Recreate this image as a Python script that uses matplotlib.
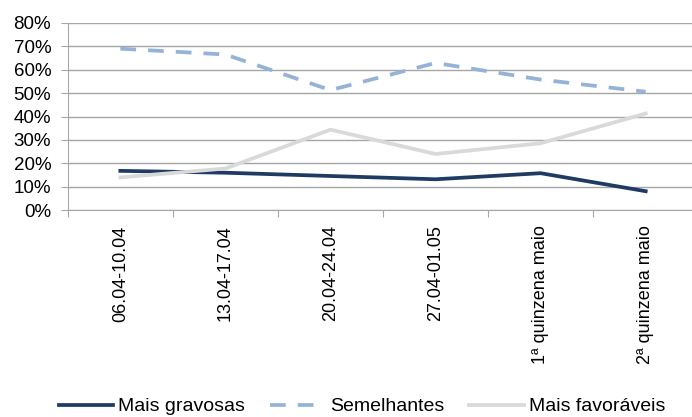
import matplotlib.pyplot as plt
from matplotlib.ticker import PercentFormatter

plt.rcParams['font.family'] = ['Liberation Sans', 'DejaVu Sans']

periods = ['06.04-10.04', '13.04-17.04', '20.04-24.04', '27.04-01.05',
           '1ª quinzena maio', '2ª quinzena maio']
mais_gravosas = [16.8, 16.0, 14.6, 13.2, 15.8, 8.1]
semelhantes = [69.0, 66.5, 51.3, 62.9, 55.8, 50.6]
mais_favoraveis = [14.0, 17.8, 34.4, 24.0, 28.6, 41.3]

grid_col = '#A6A6A6'

fig = plt.figure(figsize=(6.92, 4.17), dpi=100)
ax = fig.add_axes([0.098, 0.496, 0.911, 0.449])

x = list(range(len(periods)))
ax.plot(x, mais_gravosas, color='#1F3B63', lw=2.7, label='Mais gravosas')
ax.plot(x, semelhantes, color='#95B3D7', lw=2.7, dashes=(4.2, 3.2),
        label='Semelhantes')
ax.plot(x, mais_favoraveis, color='#D9D9D9', lw=2.7, label='Mais favoráveis')

ax.set_ylim(0, 80)
ax.set_yticks(range(0, 81, 10))
ax.yaxis.set_major_formatter(PercentFormatter(decimals=0))
ax.set_xlim(-0.5, len(periods) - 0.5)
ax.set_xticks([i - 0.5 for i in range(len(periods) + 1)])
ax.set_xticklabels([])
ax.set_xticks(x, minor=True)
ax.set_xticklabels(periods, minor=True, rotation=90, fontsize=13)
ax.tick_params(axis='x', which='minor', length=0, pad=11)
ax.tick_params(axis='x', which='major', length=5, color=grid_col, direction='out')
ax.tick_params(axis='y', length=5, color=grid_col, labelsize=13.5, pad=7)

ax.grid(axis='y', color=grid_col, lw=1)
ax.set_axisbelow(True)
for side in ['top', 'right']:
    ax.spines[side].set_visible(False)
ax.spines['left'].set_color(grid_col)
ax.spines['bottom'].set_color(grid_col)

fig.legend(loc='lower center', bbox_to_anchor=(0.523, -0.038), ncol=3,
           frameon=False, fontsize=14, handlelength=2.8, columnspacing=1.3,
           handletextpad=0.26)

fig.savefig('out.png', dpi=100)
